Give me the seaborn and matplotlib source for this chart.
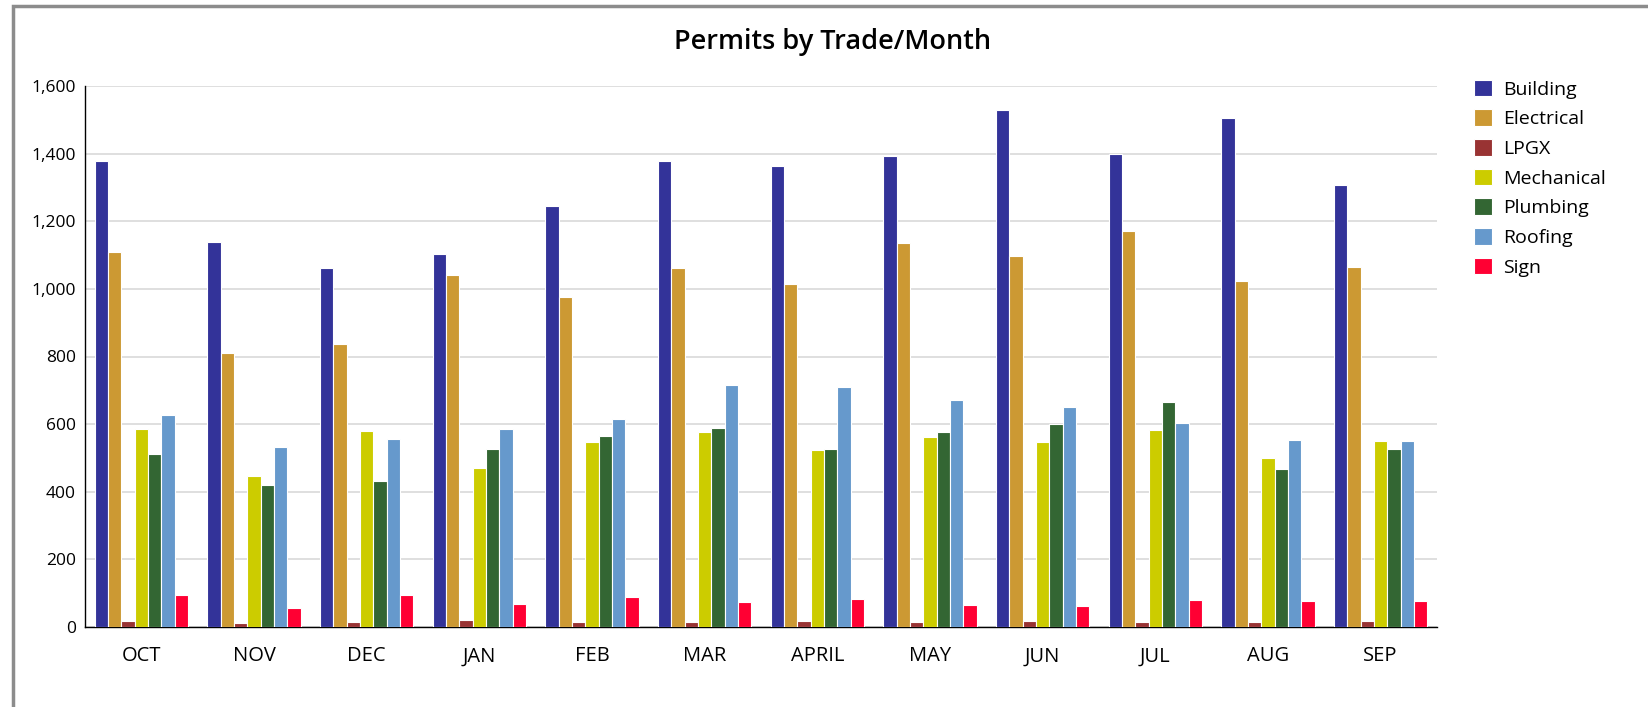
import numpy as np
import pandas as pd
import matplotlib.pyplot as plt
import seaborn as sns
from matplotlib.patches import Rectangle
from matplotlib.ticker import FuncFormatter

months = ['OCT', 'NOV', 'DEC', 'JAN', 'FEB', 'MAR', 'APRIL', 'MAY', 'JUN', 'JUL', 'AUG', 'SEP']
trades = ['Building', 'Electrical', 'LPGX', 'Mechanical', 'Plumbing', 'Roofing', 'Sign']

building   = [1378, 1139, 1062, 1103, 1246, 1378, 1363, 1393, 1529, 1398, 1506, 1306]
electrical = [1109,  809,  838, 1041,  976, 1061, 1014, 1135, 1096, 1170, 1022, 1066]
lpgx       = [  17,   11,   14,   20,   16,   15,   18,   15,   18,   14,   14,   19]
mechanical = [ 587,  448,  581,  469,  546,  576,  522,  561,  546,  584,  501,  549]
plumbing   = [ 513,  419,  431,  525,  566,  590,  525,  578,  599,  666,  466,  525]
roofing    = [ 626,  531,  555,  587,  614,  717,  711,  670,  650,  604,  554,  549]
sign       = [  94,   55,   94,   67,   89,   74,   84,   66,   62,   81,   76,   76]

colors = ['#333399', '#CC9933', '#993333', '#CCCC00', '#336633', '#6699CC', '#FF0033']

series = [building, electrical, lpgx, mechanical, plumbing, roofing, sign]
df = pd.DataFrame({
    'month': np.tile(months, len(trades)),
    'trade': np.repeat(trades, len(months)),
    'count': np.concatenate(series),
})

sns.set_style('white')
plt.rcParams['font.family'] = ['Open Sans', 'DejaVu Sans']
plt.rcParams['text.color'] = 'black'

W, H = 1648, 707
fig = plt.figure(figsize=(W / 100, H / 100), dpi=100)
ax = fig.add_axes([85 / W, 1 - 627 / H, (1437 - 85) / W, (627 - 86) / H])

# outer frame
fig.patches.append(Rectangle((13 / W, -0.01), 1.0, 1 - 6 / H + 0.01, transform=fig.transFigure,
                             fill=False, edgecolor='#8c8c8c', linewidth=2.5))

sns.barplot(data=df, x='month', y='count', hue='trade', order=months, hue_order=trades,
            palette=colors, width=0.83, edgecolor='white', linewidth=0.8,
            errorbar=None, saturation=1, ax=ax, zorder=3)

ax.set_ylim(0, 1600)
ax.set_yticks(range(0, 1601, 200))
ax.yaxis.set_major_formatter(FuncFormatter(lambda v, p: f'{int(v):,}'))
ax.grid(axis='y', color='#d9d9d9', linewidth=1.2, zorder=0)
ax.set_axisbelow(True)
ax.set_xlabel('')
ax.set_ylabel('')
ax.tick_params(axis='both', length=0, colors='black')
ax.tick_params(axis='x', pad=14, labelsize=14.5)
ax.tick_params(axis='y', pad=6.5, labelsize=12.5)
for s in ['top', 'right']:
    ax.spines[s].set_visible(False)
ax.spines['left'].set_color('black')
ax.spines['bottom'].set_color('black')
ax.spines['left'].set_linewidth(1)
ax.spines['bottom'].set_linewidth(1)

fig.text(833 / W, 1 - 42 / H, 'Permits by Trade/Month', ha='center', va='center',
         fontsize=19.5, fontweight='semibold', color='black')

handles, labels = ax.get_legend_handles_labels()
ax.legend_.remove()
fig.legend(handles, labels, loc='upper left', bbox_to_anchor=(1466 / W, 1 - 72 / H),
           frameon=False, fontsize=14, handlelength=0.93, handleheight=0.93,
           handletextpad=0.57, labelspacing=0.55, borderaxespad=0)

plt.savefig('out.png', dpi=100)
